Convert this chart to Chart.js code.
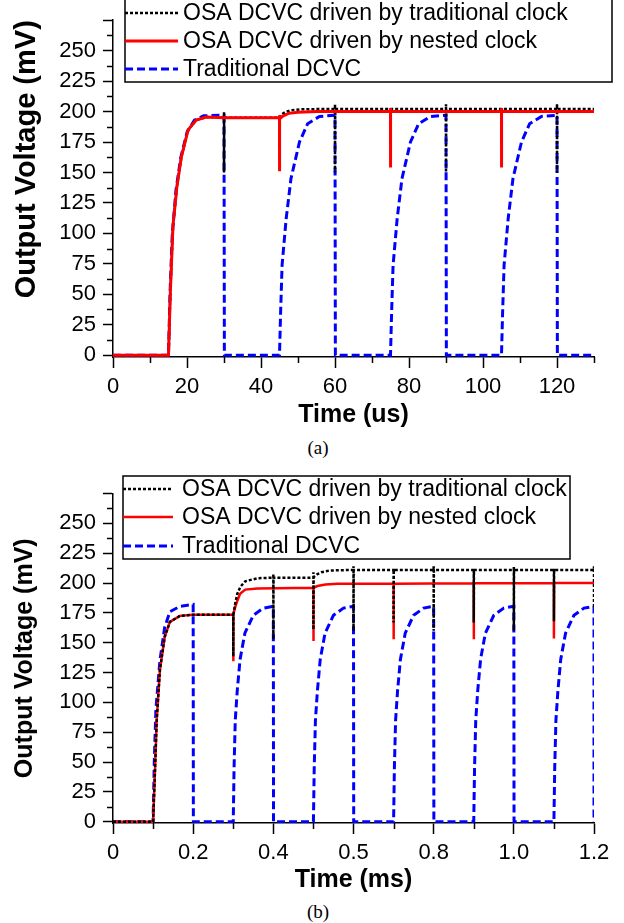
<!DOCTYPE html>
<html>
<head>
<meta charset="utf-8">
<title>OSA DCVC output voltage</title>
<script src="https://cdn.jsdelivr.net/npm/chart.js@4.4.0/dist/chart.umd.min.js"></script>
<style>
  html, body { margin: 0; padding: 0; background: #fff; }
  #page { position: relative; width: 624px; height: 923px; overflow: hidden; }
  canvas { position: absolute; left: 0; }
  #chartA { top: 0; }
  #chartB { top: 465px; }
  .caption { position: absolute; left: 0; width: 636px; text-align: center; line-height: 22px;
             font: 19px "Liberation Serif", "Times New Roman", serif; color: #000; }
</style>
</head>
<body>
<div id="page">
  <canvas id="chartA" width="624" height="430"></canvas>
  <div class="caption" style="top:437px">(a)</div>
  <canvas id="chartB" width="624" height="430"></canvas>
  <div class="caption" style="top:901px">(b)</div>
</div>
<script>
// series names, same order in both panels
const seriesLabels = ['OSA DCVC driven by traditional clock', 'OSA DCVC driven by nested clock', 'Traditional DCVC'];

// ---- panel (a), time in us, voltage in mV ----
const tA_trad = [0, 15, 15.5, 16.2, 17.3, 18.5, 20.3, 22.5, 25.2, 30, 30, 30, 30.05, 45, 45.5, 46.5, 48, 50.5, 55,
  60, 60, 60, 60.05, 90, 90, 90, 90.05, 120, 120, 120, 120.05, 130];
const vA_trad = [0, 0, 52, 106, 139, 163, 185, 193, 195.5, 195, 200, 150, 195, 195, 197.5, 199.5, 201, 201.8, 202,
  202, 206, 150, 202, 202, 206, 150, 202, 202, 206, 150, 202, 202];

const tA_nested = [0, 15, 15.5, 16.2, 17.3, 18.5, 20.3, 22.5, 25.2, 30, 45, 45, 45, 45.05, 46, 47.5, 50, 55,
  75, 75, 75, 75.05, 105, 105, 105, 105.05, 130];
const vA_nested = [0, 0, 52, 106, 139, 163, 185, 193, 195.5, 195, 195, 197, 151, 194, 196.5, 198.5, 199.5, 200,
  200, 203, 154, 200, 200, 203, 154, 200, 200];

const tA_dcvc = [0, 15, 15.4, 16, 17, 18.3, 20, 22, 24.5, 30, 30.1, 45,
  45.3, 45.7, 46.8, 48.1, 50.4, 52.6, 55.8, 60, 60.1, 75,
  75.3, 75.7, 76.8, 78.1, 80.4, 82.6, 85.8, 90, 90.1, 105,
  105.3, 105.7, 106.8, 108.1, 110.4, 112.6, 115.8, 120, 120.1, 130];
const vA_dcvc = [0, 0, 50, 98, 135, 162, 183, 193, 196.5, 197, 0, 0,
  35, 74, 112, 145, 175, 190, 196, 197, 0, 0,
  35, 74, 112, 145, 175, 190, 196, 197, 0, 0,
  35, 74, 112, 145, 175, 190, 196, 197, 0, 0];

// ---- panel (b), time in ms, voltage in mV ----
const tB_trad = [0, 0.1, 0.105, 0.109, 0.117, 0.129, 0.142, 0.167, 0.2,
  0.3, 0.3, 0.3005, 0.305, 0.31, 0.318, 0.33, 0.36,
  0.4, 0.4, 0.4, 0.4005, 0.5, 0.5, 0.5, 0.5005, 0.51, 0.52, 0.54,
  0.6, 0.6, 0.6, 0.6005, 0.7, 0.7, 0.7, 0.7005, 0.8, 0.8, 0.8, 0.8005,
  0.9, 0.9, 0.9, 0.9005, 1.0, 1.0, 1.0, 1.0005, 1.1, 1.1, 1.1, 1.1005, 1.2, 1.2, 1.2];
const vB_trad = [0, 0, 45, 85, 127, 155, 167.5, 172.5, 173.5,
  173.5, 138.5, 174, 183, 191, 197, 201.5, 204,
  204.5, 208, 153, 204.5, 204.5, 209, 161, 205, 207.5, 209, 210.5,
  211, 214, 160, 211, 211, 212, 167, 211, 211, 214, 160, 211,
  211, 212, 167, 211, 211, 214, 160, 211, 211, 212, 168, 211, 211, 214, 180];

const tB_nested = [0, 0.1, 0.105, 0.109, 0.117, 0.129, 0.142, 0.167, 0.2,
  0.3, 0.3, 0.3005, 0.305, 0.31, 0.317, 0.33, 0.36,
  0.5, 0.5, 0.5005, 0.51, 0.53, 0.56, 0.7, 0.7, 0.7005, 0.9, 0.9, 0.9005, 1.1, 1.1, 1.1005, 1.2];
const vB_nested = [0, 0, 45, 85, 127, 155, 167.5, 172.5, 173.5,
  173.5, 134.5, 174, 180, 185, 191, 194.5, 195.5,
  196, 151.5, 196, 197.5, 198.8, 199.5, 199.5, 153, 199.5, 199.8, 153, 199.8, 200, 153.5, 200, 200];

const tB_dcvc = [0, 0.1, 0.103, 0.107, 0.117, 0.129, 0.142, 0.167, 0.2, 0.2005, 0.3,
  0.302, 0.305, 0.31, 0.317, 0.329, 0.35, 0.375, 0.4, 0.4005, 0.5,
  0.502, 0.505, 0.51, 0.517, 0.529, 0.55, 0.575, 0.6, 0.6005, 0.7,
  0.702, 0.705, 0.71, 0.717, 0.729, 0.75, 0.775, 0.8, 0.8005, 0.9,
  0.902, 0.905, 0.91, 0.917, 0.929, 0.95, 0.975, 1.0, 1.0005, 1.1,
  1.102, 1.105, 1.11, 1.117, 1.129, 1.15, 1.175, 1.2, 1.2];
const vB_dcvc = [0, 0, 50, 94, 135, 163, 176, 180.5, 182, 0, 0,
  45, 85, 110, 136, 158, 173, 179, 180.5, 0, 0,
  45, 85, 110, 136, 158, 173, 179, 180.5, 0, 0,
  45, 85, 110, 136, 158, 173, 179, 180.5, 0, 0,
  45, 85, 110, 136, 158, 173, 179, 180.5, 0, 0,
  45, 85, 110, 136, 158, 173, 179, 180.5, 0];

// tick labels (panel b really prints 0.5 where 0.6 sits)
const yTickValues = [0, 25, 50, 75, 100, 125, 150, 175, 200, 225, 250];
const yTickLabels = ['0', '25', '50', '75', '100', '125', '150', '175', '200', '225', '250'];
const xTickValuesA = [0, 20, 40, 60, 80, 100, 120];
const xTickLabelsA = ['0', '20', '40', '60', '80', '100', '120'];
const xTickValuesB = [0, 0.2, 0.4, 0.6, 0.8, 1.0, 1.2];
const xTickLabelsB = ['0', '0.2', '0.4', '0.5', '0.8', '1.0', '1.2'];

Chart.defaults.font.family = '"Liberation Sans", Arial, sans-serif';
Chart.defaults.color = '#000';

const lineStyles = [
  { borderColor: '#000000', borderDash: [3, 2] },
  { borderColor: '#ff0000', borderDash: [] },
  { borderColor: '#0000ff', borderDash: [8, 4] }
];

function toPoints(t, v) {
  return t.map((x, i) => ({ x: x, y: v[i] }));
}

function isMajor(value, step) {
  return Math.abs(value / step - Math.round(value / step)) < 1e-6;
}

function labelFor(values, labels, v) {
  const i = values.findIndex(x => Math.abs(x - v) < 1e-6);
  return i < 0 ? '' : labels[i];
}

// short minor ticks, Origin style
const minorTicks = {
  id: 'minorTicks',
  afterDraw(chart, args, opts) {
    const ctx = chart.ctx;
    ctx.save();
    ctx.strokeStyle = '#000';
    ctx.lineWidth = 1.5;
    ['x', 'y'].forEach(id => {
      const s = chart.scales[id];
      s.ticks.forEach(t => {
        if (isMajor(t.value, opts[id])) return;
        const p = Math.round(s.getPixelForValue(t.value)) + 0.5;
        ctx.beginPath();
        if (id === 'x') { ctx.moveTo(p, s.top); ctx.lineTo(p, s.top + 6); }
        else { ctx.moveTo(s.right - 6, p); ctx.lineTo(s.right, p); }
        ctx.stroke();
      });
    });
    ctx.restore();
  }
};

// framed legend sitting over the plot
const boxLegend = {
  id: 'boxLegend',
  afterDraw(chart, args, o) {
    const ctx = chart.ctx;
    ctx.save();
    ctx.fillStyle = '#fff';
    ctx.fillRect(o.left, o.top, o.right - o.left, o.bottom - o.top);
    ctx.strokeStyle = '#000';
    ctx.lineWidth = 1.5;
    ctx.strokeRect(o.left, o.top, o.right - o.left, o.bottom - o.top);
    ctx.font = '23px "Liberation Sans", Arial, sans-serif';
    ctx.textBaseline = 'middle';
    chart.data.datasets.forEach((ds, i) => {
      const y = o.rows[i];
      ctx.beginPath();
      ctx.setLineDash(ds.borderDash);
      ctx.lineWidth = ds.borderWidth;
      ctx.strokeStyle = ds.borderColor;
      ctx.moveTo(o.lineX0, y);
      ctx.lineTo(o.lineX1, y);
      ctx.stroke();
      ctx.setLineDash([]);
      ctx.fillStyle = '#000';
      ctx.fillText(ds.label, o.textX, y + 1);
    });
    ctx.restore();
  }
};

function buildChart(canvasId, p) {
  const series = [[p.t[0], p.v[0]], [p.t[1], p.v[1]], [p.t[2], p.v[2]]];
  new Chart(document.getElementById(canvasId), {
    type: 'line',
    data: {
      datasets: series.map((s, i) => ({
        label: seriesLabels[i],
        data: toPoints(s[0], s[1]),
        borderColor: lineStyles[i].borderColor,
        borderDash: lineStyles[i].borderDash,
        borderWidth: p.widths[i],
        order: p.order[i],
        pointRadius: 0,
        tension: 0,
        fill: false
      }))
    },
    options: {
      responsive: false,
      animation: false,
      events: [],
      layout: { padding: { top: p.padTop, right: 30, bottom: 0, left: 0 } },
      plugins: {
        legend: { display: false },
        tooltip: { enabled: false },
        minorTicks: { x: p.xMajor, y: 25 },
        boxLegend: p.legend
      },
      scales: {
        x: {
          type: 'linear',
          min: 0,
          max: p.xMax,
          afterFit: s => { s.height = p.xHeight; },
          border: { display: true, color: '#000', width: 1.5 },
          grid: {
            drawOnChartArea: false, tickLength: 11, tickWidth: 1.5,
            tickColor: c => isMajor(c.tick.value, p.xMajor) ? '#000' : 'rgba(0,0,0,0)'
          },
          ticks: {
            stepSize: p.xStep, autoSkip: false, maxRotation: 0, padding: 6,
            font: { size: 22 },
            callback: v => labelFor(p.xTickValues, p.xTickLabels, v)
          },
          title: { display: true, text: p.xTitle, font: { size: 25, weight: 'bold' }, padding: { top: 0, bottom: 0 } }
        },
        y: {
          min: p.yMin,
          max: 275,
          afterFit: s => { s.width = 113; },
          border: { display: true, color: '#000', width: 1.5 },
          grid: {
            drawOnChartArea: false, tickLength: 10, tickWidth: 1.5,
            tickColor: c => isMajor(c.tick.value, 25) ? '#000' : 'rgba(0,0,0,0)'
          },
          ticks: {
            stepSize: 12.5, includeBounds: false, autoSkip: false, padding: 7,
            font: { size: 22 },
            callback: v => labelFor(yTickValues, yTickLabels, v)
          },
          title: { display: true, text: 'Output Voltage (mV)', align: p.yTitleAlign,
                   font: { size: p.yTitleSize, weight: 'bold' }, padding: { top: 10, bottom: 0 } }
        }
      }
    },
    plugins: [minorTicks, boxLegend]
  });
}

buildChart('chartA', {
  t: [tA_trad, tA_nested, tA_dcvc],
  v: [vA_trad, vA_nested, vA_dcvc],
  widths: [2.5, 3, 3],
  order: [1, 0, 2],
  padTop: 15,
  xMax: 130, xStep: 10, xMajor: 20, xHeight: 73,
  xTickValues: xTickValuesA, xTickLabels: xTickLabelsA,
  xTitle: 'Time (us)',
  yMin: -1.5, yTitleAlign: 'end', yTitleSize: 29,
  legend: { left: 125, top: -2, right: 612, bottom: 82, rows: [13, 41, 69], lineX0: 125, lineX1: 178, textX: 183 }
});

buildChart('chartB', {
  t: [tB_trad, tB_nested, tB_dcvc],
  v: [vB_trad, vB_nested, vB_dcvc],
  widths: [2.5, 2.5, 3],
  order: [0, 1, 2],
  padTop: 28.5,
  xMax: 1.2, xStep: 0.1, xMajor: 0.2, xHeight: 72,
  xTickValues: xTickValuesB, xTickLabels: xTickLabelsB,
  xTitle: 'Time (ms)',
  yMin: -1, yTitleAlign: 'center', yTitleSize: 25,
  legend: { left: 123, top: 11, right: 570, bottom: 94, rows: [24, 52, 81], lineX0: 123, lineX1: 173, textX: 182 }
});
</script>
</body>
</html>
